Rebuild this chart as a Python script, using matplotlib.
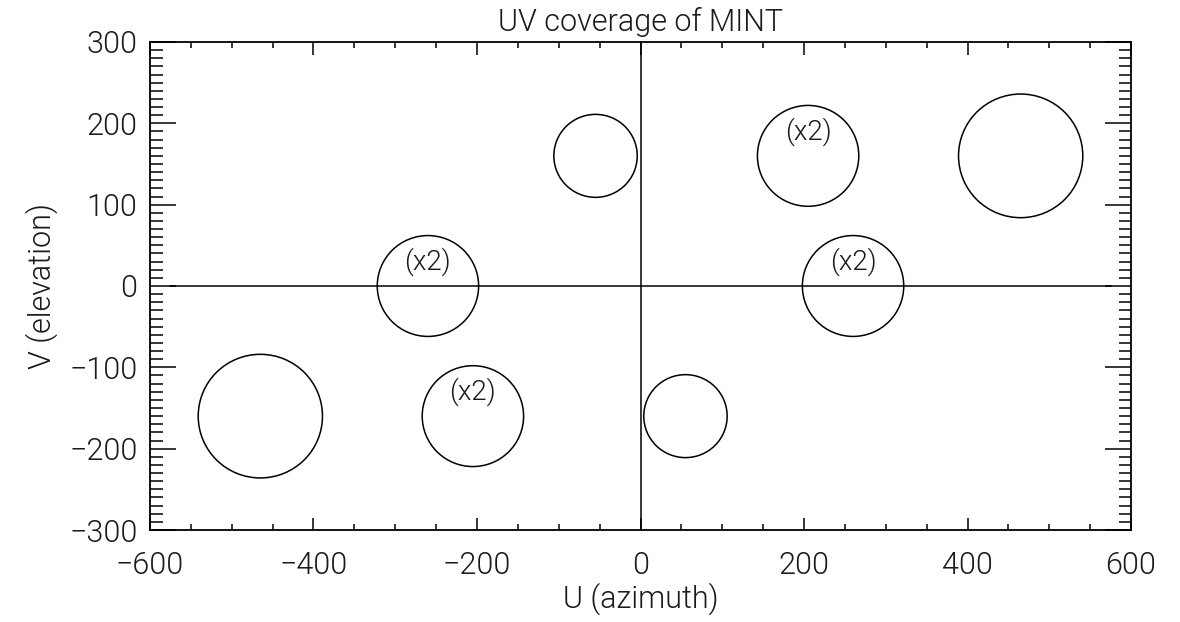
import matplotlib.pyplot as plt
from matplotlib.patches import Circle
from matplotlib.ticker import MultipleLocator

# baseline points in the UV plane (u, v, radius, label)
u_pts = [-55, 205, 465, -260, 260, -465, -205, 55]
v_pts = [160, 160, 160, 0, 0, -160, -160, -160]
radii = [51, 62, 76, 62, 62, 76, 62, 51]
labels = ['', '(x2)', '', '(x2)', '(x2)', '', '(x2)', '']

FAM = ['Roboto', 'DejaVu Sans']
font = {'family': FAM, 'weight': 300, 'color': '#1a1a1a'}

fig = plt.figure(figsize=(11.8, 6.22), dpi=100)
ax = fig.add_axes([0.1271, 0.1479, 0.8314, 0.7846])

for u, v, r, lab in zip(u_pts, v_pts, radii, labels):
    ax.add_patch(Circle((u, v), r, fill=False, color='black', lw=1.1))
    if lab:
        ax.text(u, v + 30, lab, ha='center', va='center', fontsize=20, fontdict=font)

# axis cross
ax.plot([-575, 575], [0, 0], color='black', lw=1.1)
ax.plot([0, 0], [-300, 300], color='black', lw=1.1)

ax.set_xlim(-600, 600)
ax.set_ylim(-300, 300)
ax.xaxis.set_major_locator(MultipleLocator(200))
ax.xaxis.set_minor_locator(MultipleLocator(50))
ax.yaxis.set_major_locator(MultipleLocator(100))
ax.yaxis.set_minor_locator(MultipleLocator(10))

ax.tick_params(axis='both', which='both', direction='in', top=True, right=True,
               color='black', width=1.1)
ax.tick_params(axis='x', which='major', length=9, pad=15)
ax.tick_params(axis='x', which='minor', length=4)
ax.tick_params(axis='y', which='major', length=19, pad=9)
ax.tick_params(axis='y', which='minor', length=9)

for lbl in ax.get_xticklabels() + ax.get_yticklabels():
    lbl.set_fontsize(22)
    lbl.set_fontfamily(FAM)
    lbl.set_fontweight(300)
    lbl.set_color('#1a1a1a')
ylabs = ax.get_yticklabels()
ylabs[0].set_va('bottom')
ylabs[-1].set_va('top')

for s in ax.spines.values():
    s.set_linewidth(1.3)

ax.set_title('UV coverage of MINT', fontsize=22, pad=8, fontdict=font)
ax.set_xlabel('U (azimuth)', fontsize=22, labelpad=2, fontdict=font)
ax.set_ylabel('V (elevation)', fontsize=22, labelpad=8, fontdict=font)

fig.savefig('out.png', dpi=100)
